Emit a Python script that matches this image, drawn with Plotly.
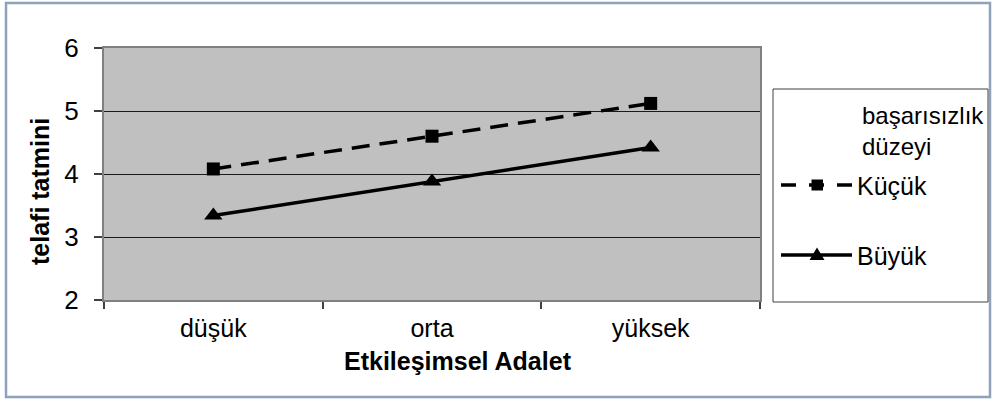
import plotly.graph_objects as go

# ---- data ----
categories = ["düşük", "orta", "yüksek"]
kucuk = [4.08, 4.60, 5.12]
buyuk = [3.34, 3.88, 4.42]
series_names = ["Küçük", "Büyük"]
legend_title = ["başarısızlık", "düzeyi"]
x_title = "Etkileşimsel Adalet"
y_title = "telafi tatmini"
y_ticks = [2, 3, 4, 5, 6]

W, H = 996, 399
FONT = "Liberation Sans, Arial, sans-serif"


def px(x):
    return x / W


def py(y):
    return 1 - y / H


fig = go.Figure()
fig.add_trace(go.Scatter(
    x=categories, y=kucuk, name=series_names[0], mode="lines+markers",
    line=dict(color="black", width=3.5, dash="18px,10px"),
    marker=dict(symbol="square", size=13, color="black"),
    showlegend=False))
fig.add_trace(go.Scatter(
    x=categories, y=buyuk, name=series_names[1], mode="lines+markers",
    line=dict(color="black", width=3.5),
    marker=dict(symbol="triangle-up", size=16, color="black"),
    showlegend=False))

# ---- manual legend (decoration, in pixel units converted to paper) ----
ky, by_ = 185, 255
legend_shapes = [
    dict(type="rect", xref="paper", yref="paper",
         x0=px(773), x1=px(988), y0=py(302), y1=py(89),
         line=dict(color="#404040", width=1), fillcolor="white",
         layer="below"),
    dict(type="line", xref="paper", yref="paper",
         x0=px(781), x1=px(852), y0=py(ky), y1=py(ky),
         line=dict(color="black", width=3.5, dash="15px,13px")),
    dict(type="rect", xref="paper", yref="paper",
         x0=px(811.5), x1=px(823), y0=py(ky + 5.5), y1=py(ky - 5.5),
         line=dict(width=0), fillcolor="black"),
    dict(type="line", xref="paper", yref="paper",
         x0=px(781), x1=px(852), y0=py(by_), y1=py(by_),
         line=dict(color="black", width=3.5)),
    dict(type="path", xref="paper", yref="paper",
         path=(f"M {px(809.5)} {py(by_ + 5)} L {px(824.5)} {py(by_ + 5)} "
               f"L {px(817)} {py(by_ - 7.5)} Z"),
         line=dict(width=0), fillcolor="black"),
]

fig.update_layout(
    width=W, height=H,
    margin=dict(l=0, r=0, t=0, b=0),
    paper_bgcolor="white",
    plot_bgcolor="#C0C0C0",
    font=dict(family=FONT, color="black", size=25),
    showlegend=False,
    xaxis=dict(
        domain=[px(104), px(760)],
        type="category",
        range=[-0.5, 2.5],
        tickson="boundaries",
        ticks="outside", ticklen=7, tickwidth=1.5, tickcolor="#404040",
        showline=True, linecolor="#808080", linewidth=2, mirror=True,
        showgrid=False, zeroline=False,
        tickfont=dict(size=25, family=FONT, color="black"),
        ticklabelstandoff=5,
        automargin=False,
    ),
    yaxis=dict(
        domain=[py(300), py(48)],
        range=[2, 6],
        tickvals=y_ticks,
        ticks="outside", ticklen=8, tickwidth=1.5, tickcolor="#404040",
        showline=True, linecolor="#808080", linewidth=2, mirror=True,
        showgrid=True, gridcolor="#1a1a1a", gridwidth=1,
        zeroline=False,
        tickfont=dict(size=26, family=FONT, color="black"),
        ticklabelstandoff=10,
        automargin=False,
    ),
    shapes=[
        dict(type="rect", xref="paper", yref="paper",
             x0=px(6), x1=px(990), y0=py(397), y1=py(3),
             line=dict(color="#8FA2BC", width=2.5), layer="below"),
    ] + legend_shapes,
    annotations=[
        dict(text=f"<b>{x_title}</b>", xref="paper", yref="paper",
             x=px(458), y=py(361), xanchor="center", yanchor="middle",
             showarrow=False, font=dict(size=25, family=FONT, color="black")),
        dict(text=f"<b>{y_title}</b>", xref="paper", yref="paper",
             x=px(40), y=py(192), xanchor="center", yanchor="middle",
             textangle=-90, showarrow=False,
             font=dict(size=25, family=FONT, color="black")),
        dict(text="<br>".join(legend_title), xref="paper", yref="paper",
             x=px(860), y=py(131), xanchor="left", yanchor="middle",
             align="left", showarrow=False,
             font=dict(size=24, family=FONT, color="black")),
        dict(text=series_names[0], xref="paper", yref="paper",
             x=px(855), y=py(186), xanchor="left", yanchor="middle",
             showarrow=False, font=dict(size=25, family=FONT, color="black")),
        dict(text=series_names[1], xref="paper", yref="paper",
             x=px(855), y=py(256), xanchor="left", yanchor="middle",
             showarrow=False, font=dict(size=25, family=FONT, color="black")),
    ],
)

fig.write_html(
    "out.html",
    config={"displayModeBar": False},
    post_script=("document.body.style.margin='0';"
                 "document.body.style.overflow='hidden';"),
)
